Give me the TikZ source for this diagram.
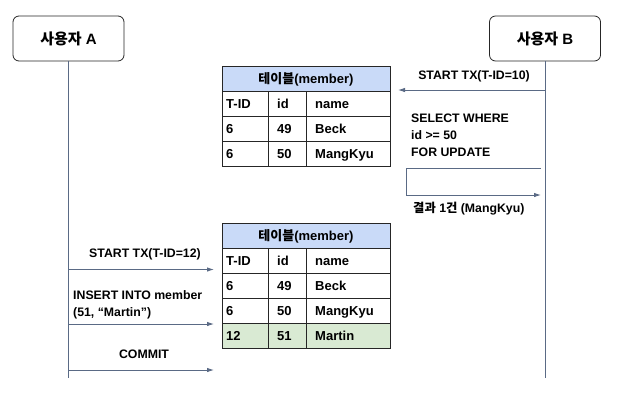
\documentclass[tikz,border=0pt]{standalone}
\usepackage{fontspec}
\setmainfont{Liberation Sans}
\newfontfamily\kr{Noto Sans CJK KR}
\usetikzlibrary{arrows.meta}
\definecolor{lineblue}{HTML}{5A6A85}
\definecolor{headblue}{HTML}{C9DAF8}
\definecolor{rowgreen}{HTML}{D9EAD3}
\begin{document}
\begin{tikzpicture}[x=1pt,y=-1pt,
  lifeline/.style={draw=lineblue, line width=0.9pt},
  msg/.style={draw=lineblue, line width=0.9pt, -{Latex[length=7pt,width=4.5pt]}},
  actor/.style={draw=black!85, rounded corners=6pt, line width=0.8pt,
    minimum width=111pt, minimum height=45pt, font=\bfseries\fontsize{15}{17}\selectfont},
  lbl/.style={inner sep=0pt, text height=8.8pt, text depth=0pt, font=\bfseries\fontsize{12.3}{17}\selectfont},
  mlbl/.style={inner sep=0pt, anchor=north west, align=left, font=\bfseries\fontsize{12.3}{17}\selectfont},
  cell/.style={inner sep=0pt, anchor=west, text height=9.3pt, text depth=0pt, font=\bfseries\fontsize{13}{15}\selectfont},
  grid/.style={draw=black!85, line width=0.8pt}
]
\useasboundingbox[fill=white] (0,0) rectangle (628,408);

% users and lifelines
\node[actor] (userA) at (68.5,38.5) {{\kr 사용자} A};
\node[actor] (userB) at (545,38.5) {{\kr 사용자} B};
\coordinate (endA) at (68.5,378);
\coordinate (endB) at (545,378);
\draw[lifeline] (userA.south) -- (endA);
\draw[lifeline] (userB.south) -- (endB);

% table before insert
\begin{scope}[shift={(0,66)}]
\draw[grid,fill=headblue] (222,0) rectangle (390,25);
\node[cell,anchor=center] (tabA) at (306,12.5) {{\kr 테이블}(member)};
\foreach \r/\a/\b/\c in {1/T-ID/id/name, 2/6/49/Beck, 3/6/50/MangKyu} {
  \draw[grid] (222,25*\r) rectangle (268,25*\r+25);
  \draw[grid] (268,25*\r) rectangle (306,25*\r+25);
  \draw[grid] (306,25*\r) rectangle (390,25*\r+25);
  \node[cell] (a\r-1) at (226,25*\r+12.5) {\a};
  \node[cell] (a\r-2) at (277,25*\r+12.5) {\b};
  \node[cell] (a\r-3) at (315,25*\r+12.5) {\c};
}
\end{scope}

% table after insert
\begin{scope}[shift={(0,223)}]
\fill[rowgreen] (222,100) rectangle (390,125);
\draw[grid,fill=headblue] (222,0) rectangle (390,25);
\node[cell,anchor=center] (tabB) at (306,12.5) {{\kr 테이블}(member)};
\foreach \r/\a/\b/\c in {1/T-ID/id/name, 2/6/49/Beck, 3/6/50/MangKyu, 4/12/51/Martin} {
  \draw[grid] (222,25*\r) rectangle (268,25*\r+25);
  \draw[grid] (268,25*\r) rectangle (306,25*\r+25);
  \draw[grid] (306,25*\r) rectangle (390,25*\r+25);
  \node[cell] (b\r-1) at (226,25*\r+12.5) {\a};
  \node[cell] (b\r-2) at (277,25*\r+12.5) {\b};
  \node[cell] (b\r-3) at (315,25*\r+12.5) {\c};
}
\end{scope}

% messages of user B
\coordinate (txBs) at (545,90);
\coordinate (txBe) at (398,90);
\draw[msg] (txBs) -- (txBe);
\node[lbl] (txB) at (474,75) {START TX(T-ID=10)};
\node[mlbl] (selB) at (411,114) {SELECT WHERE\\id >= 50\\FOR UPDATE};
\coordinate (selS) at (541,168);
\coordinate (selC1) at (406,168);
\coordinate (selC2) at (406,195);
\coordinate (selE) at (541,195);
\draw[msg] (selS) -- (selC1) -- (selC2) -- (selE);
\node[lbl,anchor=west] (resB) at (413,208.5) {{\kr 결과} 1{\kr 건} (MangKyu)};

% messages of user A
\coordinate (txAs) at (68.5,269.5);
\coordinate (txAe) at (214,269.5);
\draw[msg] (txAs) -- (txAe);
\node[lbl] (txA) at (145,253.5) {START TX(T-ID=12)};
\node[mlbl] (insA) at (73,290.5) {INSERT INTO member\\(51, “Martin”)};
\coordinate (insAs) at (68.5,324);
\coordinate (insAe) at (214,324);
\draw[msg] (insAs) -- (insAe);
\node[lbl] (comA) at (144,354.5) {COMMIT};
\coordinate (comAs) at (68.5,370);
\coordinate (comAe) at (214,370);
\draw[msg] (comAs) -- (comAe);
\end{tikzpicture}
\end{document}
